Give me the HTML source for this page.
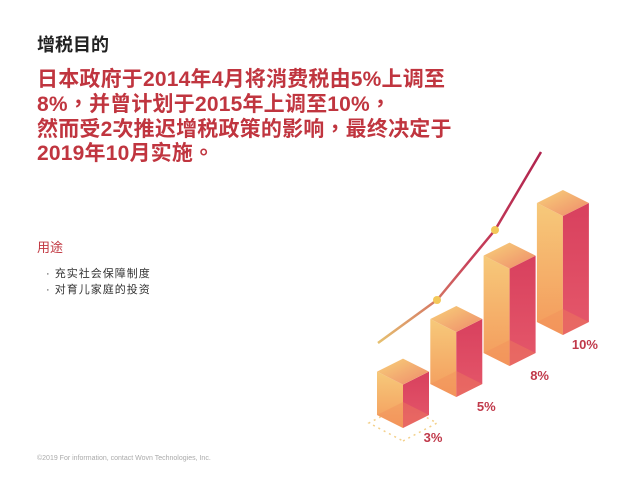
<!DOCTYPE html>
<html><head><meta charset="utf-8">
<style>
body{margin:0;width:638px;height:479px;background:#fff;overflow:hidden;position:relative;font-family:"Liberation Sans","Noto Sans CJK SC",sans-serif;}
.t{position:absolute;white-space:nowrap;}
</style></head><body>
<div class="t" style="left:37px;top:31px;font-size:18px;color:#222;font-weight:bold;">增税目的</div>
<div class="t" style="left:37px;top:68px;font-size:21px;line-height:24.8px;color:#c0353f;font-weight:bold;letter-spacing:0.2px;font-family:'Liberation Sans','Noto Sans CJK TC',sans-serif;">日本政府于2014年4月将消费税由5%上调至<br>8%，并曾计划于2015年上调至10%，<br>然而受2次推迟增税政策的影响，最终决定于<br>2019年10月实施。</div>
<div class="t" style="left:37px;top:237px;font-size:13px;color:#c0353f;">用途</div>
<div class="t" style="left:46px;top:266px;font-size:11px;line-height:16px;color:#333;letter-spacing:1px;">· 充实社会保障制度<br>· 对育儿家庭的投资</div>
<div class="t" style="left:37px;top:455px;font-size:7px;color:#aaa;">©2019 For information, contact Wovn Technologies, Inc.</div>
<svg id="chart" width="638" height="479" style="position:absolute;left:0;top:0">
<defs>
<linearGradient id="gl" x1="0" y1="1" x2="0" y2="0"><stop offset="0" stop-color="#f49a5c"/><stop offset="1" stop-color="#f6c97a"/></linearGradient>
<linearGradient id="gr" x1="0" y1="1" x2="0" y2="0"><stop offset="0" stop-color="#e5586a"/><stop offset="1" stop-color="#d8405e"/></linearGradient>
<linearGradient id="gt" x1="0" y1="0" x2="1" y2="1"><stop offset="0" stop-color="#f8d27a"/><stop offset="1" stop-color="#ee8a6a"/></linearGradient>
<linearGradient id="gline" x1="0" y1="1" x2="1" y2="0"><stop offset="0" stop-color="#e6c170"/><stop offset="0.5" stop-color="#c8405a"/><stop offset="1" stop-color="#b0244e"/></linearGradient>
</defs>
</svg>
<script>
const categories=['2014前','2014','2015计划','2019'];
const rates=[3,5,8,10];
const labels=['3%','5%','8%','10%'];
const trend=[0,1,2,3];
const svg=document.getElementById('chart');
const NS='http://www.w3.org/2000/svg';
function xPos(i){return 403+i*53.3;}
function basePos(i){return 428-i*31;}
function hScale(v){return 37+v*10.8;}
function mk(t,a){const e=document.createElementNS(NS,t);for(const k in a)e.setAttribute(k,a[k]);svg.appendChild(e);return e;}
const pts=[[378,343],[437,300],[495,230],[541,152]];
const tl=mk('polyline',{points:trend.map(i=>pts[i].join(',')).join(' '),fill:'none',stroke:'url(#gline)','stroke-width':2.5});


[1,2].forEach(i=>{const d=mk('circle',{cx:pts[i][0],cy:pts[i][1],r:4,fill:'#f3c85a'});

});
const fl=mk('polygon',{points:'403,441 437,423 403,405 369,423',fill:'none',stroke:'#f3d08a','stroke-width':1.5,'stroke-dasharray':'2 4'});


rates.forEach((v,i)=>{
 const cx=xPos(i),b=basePos(i),h=hScale(v),w=26,d=13,t=b-h;
 const g=document.createElementNS(NS,'g');svg.appendChild(g);
 
 
 const add=(p,f,o)=>{const e=document.createElementNS(NS,'polygon');e.setAttribute('points',p);e.setAttribute('fill',f);if(o)e.setAttribute('opacity',o);g.appendChild(e);};
 add(`${cx-w},${t+d} ${cx},${t+2*d} ${cx},${b} ${cx-w},${b-d}`,'url(#gl)');
 add(`${cx},${t+2*d} ${cx+w},${t+d} ${cx+w},${b-d} ${cx},${b}`,'url(#gr)');
 add(`${cx-w},${t+d} ${cx},${t} ${cx+w},${t+d} ${cx},${t+2*d}`,'url(#gt)');
 add(`${cx-w},${b-d} ${cx},${b-2*d} ${cx+w},${b-d} ${cx},${b}`,'#f08a5a','0.35');
 const tx=document.createElementNS(NS,'text');
 tx.setAttribute('x',cx+30-(i==3?8:0));tx.setAttribute('y',b+14);
 tx.setAttribute('text-anchor','middle');tx.setAttribute('font-size','13');tx.setAttribute('font-weight','bold');
 tx.setAttribute('fill','#c0394a');tx.setAttribute('font-family','Liberation Sans, sans-serif');
 tx.textContent=labels[i];
 
 
 svg.appendChild(tx);
});
</script>
</body></html>
